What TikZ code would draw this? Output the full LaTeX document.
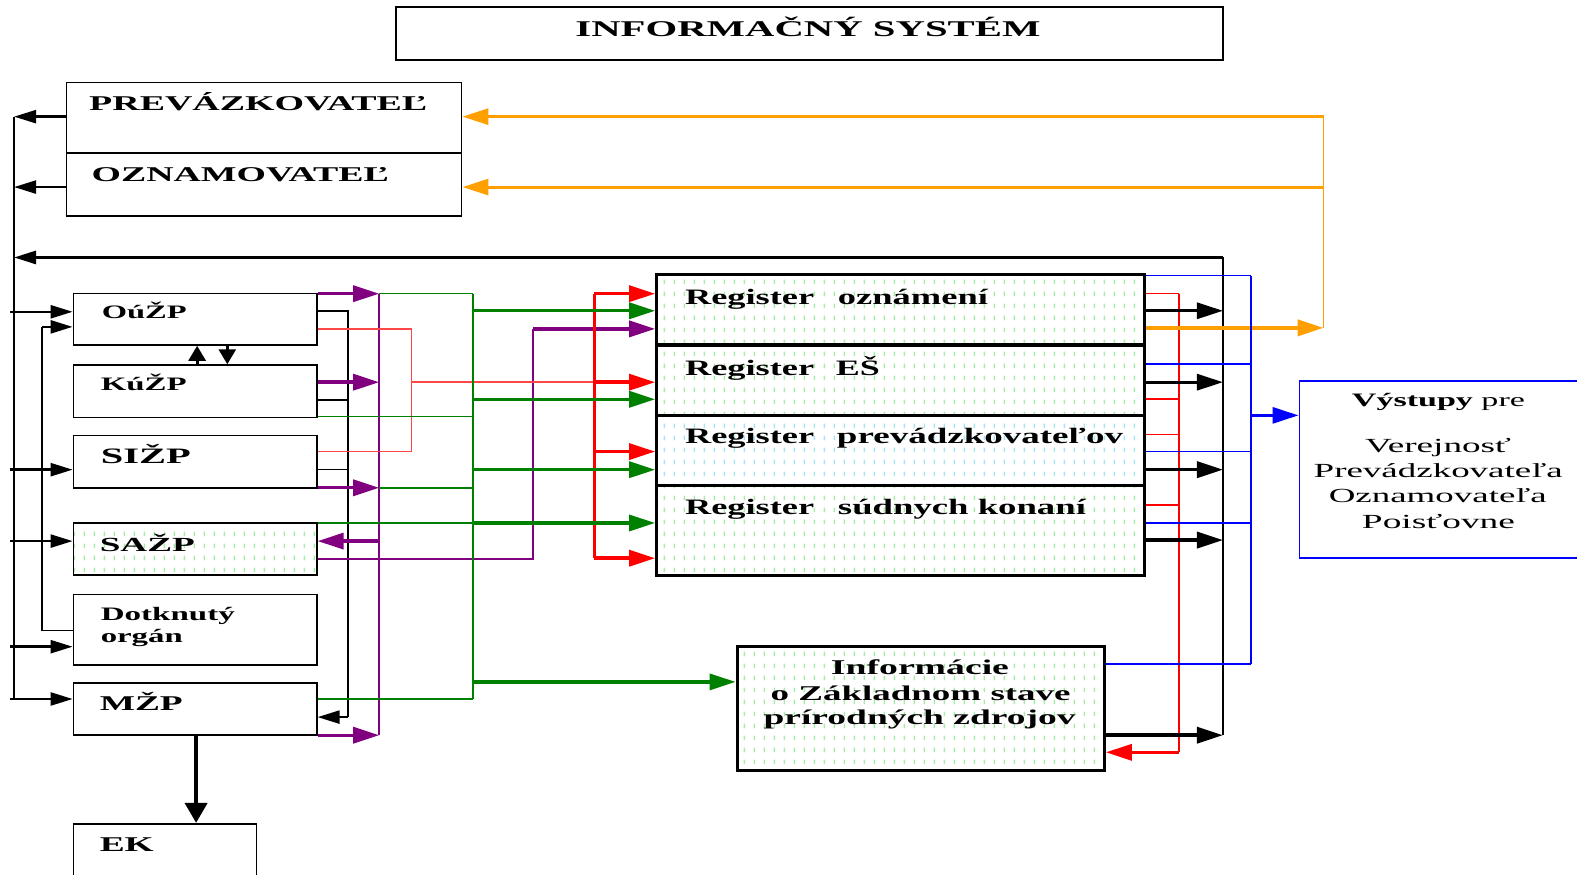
\documentclass[tikz,border=0pt]{standalone}
\usepackage{fontspec}
\setmainfont{Liberation Serif}
\usepackage{graphicx}
\usetikzlibrary{arrows.meta,fit,patterns.meta}
\definecolor{cpur}{RGB}{128,0,128}
\definecolor{cgrn}{RGB}{0,128,0}
\definecolor{cred}{RGB}{255,0,0}
\definecolor{cred2}{RGB}{255,70,70}
\definecolor{corg}{RGB}{255,160,0}
\definecolor{cblu}{RGB}{0,0,255}
\definecolor{cdot}{RGB}{170,235,170}
\definecolor{cdotc}{RGB}{170,228,242}
\pgfdeclarepattern{
  name=vdash,
  type=uncolored,
  bottom left={\pgfpoint{0pt}{0pt}},
  top right={\pgfpoint{10pt}{12pt}},
  tile size={\pgfpoint{10pt}{12pt}},
  code={\pgfpathrectangle{\pgfpoint{4pt}{3pt}}{\pgfpoint{1.6pt}{5pt}}\pgfusepath{fill}}
}
\newcommand{\wt}[3]{\resizebox{#1pt}{\height}{\fontsize{#2}{#2}\selectfont #3}}
\tikzset{
  box/.style={draw, line width=1.6pt, inner sep=0pt},
  rbox/.style={draw, line width=3.2pt, inner sep=0pt},
  gdots/.style={pattern=vdash, pattern color=cdot},
  cdots/.style={pattern=vdash, pattern color=cdotc},
  lbl/.style={anchor=base west, inner sep=0pt},
  tip/.style={-{Triangle[length=26pt,width=16pt]}},
  stip/.style={-{Triangle[length=22pt,width=13pt]}},
  thin/.style={line width=1.6pt},
  mid/.style={line width=2.4pt},
  thick/.style={line width=3.4pt},
}
\begin{document}
\begin{tikzpicture}[x=1.00574pt,y=-1.00574pt]
\useasboundingbox (0,0) rectangle (1568,870);
% ---------- boxes
\node[box, line width=1.8pt, fit={(394,7) (1216,60)}] (title) {};
\node[box, fit={(66,82) (459,152)}] (prev) {};
\node[box, fit={(66,152) (459,215)}] (ozn) {};
\node[box, fit={(73,292) (315,343)}] (oup) {};
\node[box, fit={(73,363) (315,415)}] (kup) {};
\node[box, fit={(73,433) (315,485)}] (sip) {};
\node[box, gdots, fit={(73,520) (315,572)}] (sap) {};
\node[box, fit={(73,591) (315,661)}] (dot) {};
\node[box, fit={(73,679) (315,731)}] (mzp) {};
\node[box, fit={(73,819) (255,900)}] (ek) {};
\node[rbox, gdots, fit={(653,273) (1138,343)}] (r1) {};
\node[rbox, gdots, fit={(653,343) (1138,413)}] (r2) {};
\node[rbox, cdots, fit={(653,413) (1138,483)}] (r3) {};
\node[rbox, gdots, fit={(653,483) (1138,572)}] (r4) {};
\node[rbox, gdots, fit={(733,643) (1098,766)}] (info) {};
\node[box, draw=cblu, line width=1.8pt, fit={(1292,379) (1600,555)}] (vys) {};
% ---------- texts
\node[lbl] (t0) at (572,36.3) {\wt{465}{22.5}{\bfseries INFORMAČNÝ SYSTÉM}};
\node[lbl] (t1) at (88.5,109.4) {\wt{338}{21}{\bfseries PREVÁZKOVATEĽ}};
\node[lbl] (t2) at (91,180) {\wt{297}{21}{\bfseries OZNAMOVATEĽ}};
\node[lbl] (t3) at (101,317) {\wt{85}{19}{\bfseries OúŽP}};
\node[lbl] (t4) at (100,388) {\wt{86}{19}{\bfseries KúŽP}};
\node[lbl] (t5) at (100,461) {\wt{90}{22}{\bfseries SIŽP}};
\node[lbl] (t6) at (99,548) {\wt{95}{20}{\bfseries SAŽP}};
\node[lbl] (t7) at (100,617) {\wt{134}{19}{\bfseries Dotknutý}};
\node[lbl] (t8) at (100,639) {\wt{82}{19}{\bfseries orgán}};
\node[lbl] (t9) at (99,706) {\wt{83}{21}{\bfseries MŽP}};
\node[lbl] (t10) at (99,847) {\wt{54}{21}{\bfseries EK}};
\node[lbl] (t11) at (681,303) {\wt{129}{22}{\bfseries Register}};
\node[lbl] (t12) at (833,303) {\wt{150}{22}{\bfseries oznámení}};
\node[lbl] (t13) at (681,373) {\wt{129}{22}{\bfseries Register}};
\node[lbl] (t14) at (831,373) {\wt{44}{22}{\bfseries EŠ}};
\node[lbl] (t15) at (681,441) {\wt{129}{22}{\bfseries Register}};
\node[lbl] (t16) at (832,441) {\wt{286}{22}{\bfseries prevádzkovateľov}};
\node[lbl] (t17) at (681,512) {\wt{129}{22}{\bfseries Register}};
\node[lbl] (t18) at (833,512) {\wt{248}{22}{\bfseries súdnych konaní}};
\node[lbl] (t19) at (1344,404) {\wt{173}{19}{\textbf{Výstupy} pre}};
\node[lbl] (t20) at (1357,450) {\wt{146}{20}{Verejnosť}};
\node[lbl] (t21) at (1306,475) {\wt{249}{20}{Prevádzkovateľa}};
\node[lbl] (t22) at (1321,500) {\wt{218}{20}{Oznamovateľa}};
\node[lbl] (t23) at (1354,525) {\wt{153}{20}{Poisťovne}};
\node[lbl] (t24) at (826,671) {\wt{178}{21}{\bfseries Informácie}};
\node[lbl] (t25) at (766,696) {\wt{300}{21}{\bfseries o Základnom stave}};
\node[lbl] (t26) at (759,720) {\wt{312}{21}{\bfseries prírodných zdrojov}};
% ---------- bus coordinates
\coordinate (lb) at (14,0);
\coordinate (lb2) at (42,0);
\coordinate (kb) at (346,0);
\coordinate (pb) at (377,0);
\coordinate (rl) at (409,0);
\coordinate (gb) at (470,0);
\coordinate (pv) at (530,0);
\coordinate (rb) at (591,0);
\coordinate (rr) at (1172,0);
\coordinate (kr) at (1216,0);
\coordinate (br) at (1244,0);
\coordinate (orx) at (1316,0);
% ---------- black, left side
\draw[mid] (lb |- 0,116) -- (lb |- 0,695);
\draw[mid, stip] (prev.west |- 0,116) -- (lb |- 0,116);
\draw[mid, stip] (ozn.west |- 0,186) -- (lb |- 0,186);
\draw[line width=3pt, stip] (kr |- 0,256) -- (lb |- 0,256);
\draw[mid] (kr |- 0,256) -- (kr |- 0,731);
\draw[mid, stip] (10,310) -- (oup.west |- 0,310);
\draw[mid, stip] (10,467) -- (sip.west |- 0,467);
\draw[mid, stip] (10,538) -- (sap.west |- 0,538);
\draw[mid, stip] (10,643) -- (dot.west |- 0,643);
\draw[mid, stip] (10,695) -- (mzp.west |- 0,695);
\draw[thin] (dot.west |- 0,627) -- (lb2 |- 0,627) -- (lb2 |- 0,325);
\draw[mid, stip] (lb2 |- 0,325) -- (oup.west |- 0,325);
\draw[line width=2.8pt, -{Triangle[length=15pt,width=17pt]}] (kup.north -| 196,0) -- (oup.south -| 196,0);
\draw[line width=2.8pt, -{Triangle[length=15pt,width=17pt]}] (oup.south -| 226,0) -- (kup.north -| 226,0);
\draw[line width=4pt, -{Triangle[length=20pt,width=22pt]}] (mzp.south -| 195,0) -- (ek.north -| 195,0);
\draw[thin] (oup.east |- 0,309) -- (kb |- 0,309) -- (kb |- 0,713);
\draw[thin] (kup.east |- 0,398) -- (kb |- 0,398);
\draw[thin] (sip.east |- 0,467) -- (kb |- 0,467);
\draw[mid, stip] (kb |- 0,713) -- (mzp.east |- 0,713);
% ---------- purple
\draw[cpur, thin] (pb |- 0,292) -- (pb |- 0,731);
\draw[cpur, thick, tip] (oup.east |- 0,292) -- (pb |- 0,292);
\draw[cpur, thick, tip] (kup.east |- 0,380) -- (pb |- 0,380);
\draw[cpur, thick, tip] (sip.east |- 0,485) -- (pb |- 0,485);
\draw[cpur, thick, tip] (mzp.east |- 0,731) -- (pb |- 0,731);
\draw[cpur, thick, tip] (pb |- 0,538) -- (sap.east |- 0,538);
\draw[cpur, thin] (sap.east |- 0,556) -- (pv |- 0,556) -- (pv |- 0,327);
\draw[cpur, thick, tip] (pv |- 0,327) -- (r1.west |- 0,327);
% ---------- red
\draw[cred2, thin] (oup.east |- 0,327) -- (rl |- 0,327) -- (rl |- 0,449) -- (sip.east |- 0,449);
\draw[cred2, thin] (rl |- 0,380) -- (rb |- 0,380);
\draw[cred, mid] (rb |- 0,292) -- (rb |- 0,555);
\draw[cred, thick, tip] (rb |- 0,292) -- (r1.west |- 0,292);
\draw[cred, thick, tip] (rb |- 0,380) -- (r2.west |- 0,380);
\draw[cred, thick, tip] (rb |- 0,449) -- (r3.west |- 0,449);
\draw[cred, thick, tip] (rb |- 0,555) -- (r4.west |- 0,555);
\draw[cred, thin] (r1.east |- 0,292) -- (rr |- 0,292);
\draw[cred, thin] (r2.east |- 0,397) -- (rr |- 0,397);
\draw[cred, thin] (r3.east |- 0,432) -- (rr |- 0,432);
\draw[cred, thin] (r4.east |- 0,502) -- (rr |- 0,502);
\draw[cred, mid] (rr |- 0,292) -- (rr |- 0,748);
\draw[cred, thick, tip] (rr |- 0,748) -- (info.east |- 0,748);
% ---------- green
\draw[cgrn, thin] (gb |- 0,292) -- (gb |- 0,695);
\draw[cgrn, thin] (pb |- 0,292) -- (gb |- 0,292);
\draw[cgrn, thin] (kup.east |- 0,414) -- (gb |- 0,414);
\draw[cgrn, thin] (pb |- 0,485) -- (gb |- 0,485);
\draw[cgrn, thin] (mzp.east |- 0,695) -- (gb |- 0,695);
\draw[cgrn, thin] (sap.east |- 0,520) -- (gb |- 0,520);
\draw[cgrn, thick, tip] (gb |- 0,309) -- (r1.west |- 0,309);
\draw[cgrn, thick, tip] (gb |- 0,397) -- (r2.west |- 0,397);
\draw[cgrn, thick, tip] (gb |- 0,467) -- (r3.west |- 0,467);
\draw[cgrn, thick, tip] (gb |- 0,520) -- (r4.west |- 0,520);
\draw[cgrn, thick, tip] (gb |- 0,678) -- (info.west |- 0,678);
% ---------- black, right side
\draw[line width=3pt, tip] (r1.east |- 0,309) -- (kr |- 0,309);
\draw[line width=3pt, tip] (r2.east |- 0,380) -- (kr |- 0,380);
\draw[line width=3.6pt, tip] (r3.east |- 0,467) -- (kr |- 0,467);
\draw[line width=3.6pt, tip] (r4.east |- 0,537) -- (kr |- 0,537);
\draw[line width=3.6pt, tip] (info.east |- 0,731) -- (kr |- 0,731);
% ---------- orange
\draw[corg, line width=4pt, tip] (r1.east |- 0,326) -- (orx |- 0,326);
\draw[corg, thin] (orx |- 0,326) -- (orx |- 0,116);
\draw[corg, line width=3pt, tip] (orx |- 0,116) -- (prev.east |- 0,116);
\draw[corg, line width=3pt, tip] (orx |- 0,186) -- (ozn.east |- 0,186);
% ---------- blue
\draw[cblu, thin] (r1.east |- 0,274) -- (br |- 0,274);
\draw[cblu, thin] (r2.east |- 0,362) -- (br |- 0,362);
\draw[cblu, thin] (r3.east |- 0,449) -- (br |- 0,449);
\draw[cblu, thin] (r4.east |- 0,520) -- (br |- 0,520);
\draw[cblu, thin] (info.east |- 0,660) -- (br |- 0,660);
\draw[cblu, mid] (br |- 0,274) -- (br |- 0,660);
\draw[cblu, line width=3pt, tip] (br |- 0,413) -- (vys.west |- 0,413);
\end{tikzpicture}
\end{document}
